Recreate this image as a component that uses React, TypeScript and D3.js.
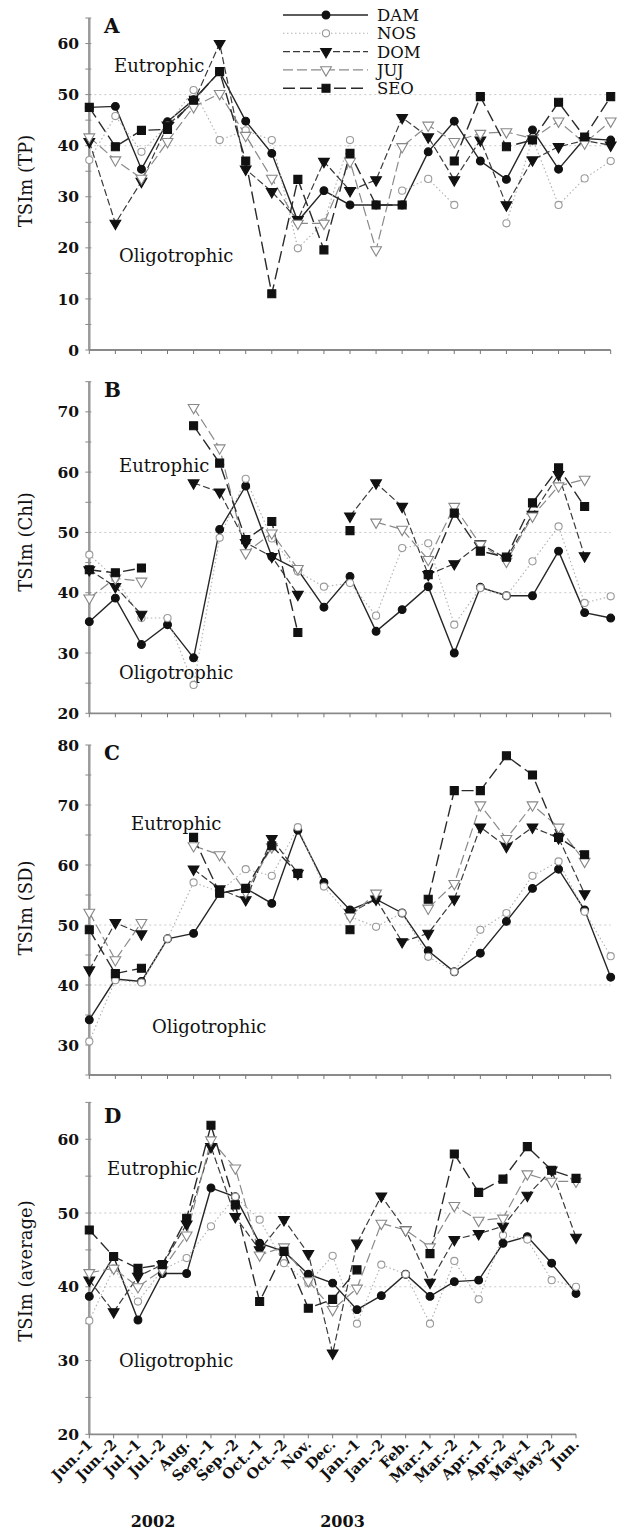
import React from 'react';
import * as d3 from 'd3';

const categories = ["Jun.–1","Jun.–2","Jul.–1","Jul.–2","Aug.","Sep.–1","Sep.–2","Oct.–1","Oct.–2","Nov.","Dec.","Jan.–1","Jan.–2","Feb.","Mar.–1","Mar.–2","Apr.–1","Apr.–2","May–1","May–2","Jun."];
const yearLabels = ["2002", "2003"];
const seriesNames = ["DAM", "NOS", "DOM", "JUJ", "SEO"];

// Panel A: TSIm (TP)
const tpDAM = [47.5, 47.7, 35.4, 44.7, 49.0, 54.5, 44.8, 38.5, 25.2, 31.2, 28.4, 28.4, 28.4, 38.8, 44.8, 37.0, 33.4, 43.1, 35.4, 41.4, 41.1];
const tpNOS = [37.2, 45.8, 38.8, 44.0, 50.9, 41.1, 43.0, 41.1, 19.9, 25.0, 41.1, null, 31.2, 33.5, 28.4, null, 24.8, 41.4, 28.4, 33.6, 37.0];
const tpDOM = [40.8, 24.8, 33.0, 44.0, 48.5, 60.0, 35.4, 31.0, 25.5, 36.9, 31.2, 33.3, 45.5, 41.7, 33.3, 41.1, 28.4, 37.2, 39.8, 41.0, 40.1];
const tpJUJ = [41.7, 37.2, 33.6, 40.8, 47.6, 50.2, 42.0, 33.6, 24.8, 24.8, 36.9, 19.6, 39.8, 44.0, 40.8, 42.4, 42.7, 41.4, 44.8, 40.5, 44.8];
const tpSEO = [47.5, 39.8, 43.0, 43.2, 48.9, 54.5, 37.0, 11.0, 33.4, 19.6, 38.5, 28.4, 28.4, null, 37.0, 49.6, 39.8, 41.1, 48.5, 41.7, 49.6];

// Panel B: TSIm (Chl)
const chlDAM = [35.2, 39.1, 31.4, 34.7, 29.2, 50.5, 57.7, 46.0, 43.8, 37.6, 42.7, 33.6, 37.2, 41.0, 30.0, 40.9, 39.5, 39.5, 46.9, 36.7, 35.8];
const chlNOS = [46.3, 42.4, 35.8, 35.8, 24.7, 49.1, 58.9, 49.0, 43.5, 41.0, 41.6, 36.2, 47.4, 48.2, 34.7, 40.8, 39.5, 45.2, 51.0, 38.3, 39.4];
const chlDOM = [43.8, 41.0, 36.4, null, 58.2, 56.7, 48.3, 46.0, 39.7, null, 52.7, 58.2, 54.3, 43.0, 44.8, 48.1, 45.7, 53.0, 59.6, 46.1, null];
const chlJUJ = [39.1, 42.4, 41.9, null, 70.7, 64.0, 46.6, 49.9, 44.0, null, null, 51.7, 50.5, 45.5, 54.3, 48.0, 45.2, 52.7, 57.7, 58.8, null];
const chlSEO = [43.8, 43.3, 44.1, null, 67.7, 61.5, 48.8, 51.8, 33.4, null, 50.3, null, null, 43.0, 53.2, 46.9, 45.9, 54.9, 60.7, 54.3, null];

// Panel C: TSIm (SD)
const sdDAM = [34.2, 41.0, 40.6, 47.7, 48.6, 55.3, 56.1, 53.6, 65.8, 57.1, 52.5, 54.3, 52.0, 45.7, 42.2, 45.3, 50.6, 56.1, 59.3, 52.5, 41.3];
const sdNOS = [30.6, 40.8, 40.4, 47.7, 57.1, 55.5, 59.3, 58.2, 66.3, 56.4, 51.4, 49.7, 52.0, 44.7, 42.2, 49.2, 52.0, 58.2, 60.6, 52.2, 44.8];
const sdDOM = [42.5, 50.4, 48.5, null, 59.3, 56.0, 54.2, 64.4, 58.6, null, 52.0, 54.3, 47.2, 48.6, 54.3, 66.3, 63.1, 66.3, 64.5, 55.2, null];
const sdJUJ = [52.1, 44.2, 50.4, null, 63.2, 61.7, 55.5, 63.0, null, null, 51.4, 55.3, null, 52.8, 56.9, 70.0, 64.4, 70.0, 66.3, 60.6, null];
const sdSEO = [49.2, 41.9, 42.8, null, 64.6, 55.3, 56.1, 63.2, 58.6, null, 49.2, null, null, 54.3, 72.4, 72.4, 78.2, 75.0, 64.6, 61.7, null];

// Panel D: TSIm (average)
const avgDAM = [38.7, 44.1, 35.5, 41.8, 41.8, 53.4, 52.2, 45.9, 44.8, 41.7, 40.5, 36.9, 38.8, 41.7, 38.7, 40.7, 40.9, 45.9, 46.8, 43.2, 39.1];
const avgNOS = [35.4, 42.5, 38.0, 42.3, 43.9, 48.2, 52.2, 49.1, 43.2, 40.5, 44.2, 35.0, 43.0, 41.7, 35.0, 43.5, 38.3, 47.0, 46.4, 40.9, 40.0];
const avgDOM = [40.9, 36.6, 41.4, 43.0, 48.5, 59.0, 49.5, 45.0, 49.1, 44.5, 31.0, 45.9, 52.3, 47.7, 40.6, 46.4, 47.2, 48.2, 52.4, 55.8, 46.7];
const avgJUJ = [41.9, 42.5, 40.0, 42.3, 47.0, 59.9, 56.1, 44.3, 45.4, 40.8, 36.9, 39.8, 48.6, 47.7, 45.4, 51.0, 49.0, 49.3, 55.3, 54.3, 54.3];
const avgSEO = [47.7, 44.1, 42.5, 43.0, 49.3, 61.9, 51.1, 38.0, 44.8, 37.1, 38.3, 42.3, null, null, 44.5, 58.0, 52.8, 54.6, 59.0, 55.8, 54.7];

const trophicLines = [40, 50];

const FONT = "'DejaVu Serif', serif";

const seriesStyle: Record<string, any> = {
  DAM: { stroke: '#262626', dash: null, width: 1.4, symbol: d3.symbolCircle, size: 48, fill: '#111', mstroke: '#111', rot: 0 },
  NOS: { stroke: '#b0b0b0', dash: '1.5,2.5', width: 1.1, symbol: d3.symbolCircle, size: 40, fill: '#fff', mstroke: '#9a9a9a', rot: 0 },
  DOM: { stroke: '#3a3a3a', dash: '7,3', width: 1.2, symbol: d3.symbolTriangle, size: 50, fill: '#111', mstroke: '#111', rot: 180 },
  JUJ: { stroke: '#8a8a8a', dash: '10,4', width: 1.2, symbol: d3.symbolTriangle, size: 50, fill: '#fff', mstroke: '#888', rot: 180 },
  SEO: { stroke: '#2a2a2a', dash: '12,5', width: 1.4, symbol: d3.symbolSquare, size: 64, fill: '#111', mstroke: '#111', rot: 0 },
};

const X0 = 89.3;

const panels = [
  { letter: 'A', title: 'TSIm (TP)', domain: [0, 65], range: [350, 18], ticks: [0, 10, 20, 30, 40, 50, 60], xEnd: 610.7,
    data: { DAM: tpDAM, NOS: tpNOS, DOM: tpDOM, JUJ: tpJUJ, SEO: tpSEO }, eu: [114, 72], oli: [119, 262], titleY: 181, letterY: 33 },
  { letter: 'B', title: 'TSIm (Chl)', domain: [20, 75], range: [713.3, 381.7], ticks: [20, 30, 40, 50, 60, 70], xEnd: 610.7,
    data: { DAM: chlDAM, NOS: chlNOS, DOM: chlDOM, JUJ: chlJUJ, SEO: chlSEO }, eu: [119, 472], oli: [119, 679], titleY: 542, letterY: 397 },
  { letter: 'C', title: 'TSIm (SD)', domain: [25, 80], range: [1075, 745], ticks: [30, 40, 50, 60, 70, 80], xEnd: 610.7,
    data: { DAM: sdDAM, NOS: sdNOS, DOM: sdDOM, JUJ: sdJUJ, SEO: sdSEO }, eu: [131, 830], oli: [152, 1033], titleY: 908, letterY: 760 },
  { letter: 'D', title: 'TSIm (average)', domain: [20, 65], range: [1434.3, 1102.4], ticks: [20, 30, 40, 50, 60], xEnd: 576,
    data: { DAM: avgDAM, NOS: avgNOS, DOM: avgDOM, JUJ: avgJUJ, SEO: avgSEO }, eu: [107, 1175], oli: [119, 1367], titleY: 1271, letterY: 1123 },
];

function Marker({ name, x, y }: { name: string; x: number; y: number }) {
  const s = seriesStyle[name];
  const path = d3.symbol().type(s.symbol).size(s.size)() as string;
  return (
    <path d={path} transform={`translate(${x},${y}) rotate(${s.rot})`} fill={s.fill} stroke={s.mstroke} strokeWidth={1.1} />
  );
}

function Panel({ p, showX }: { p: any; showX: boolean }) {
  const x = d3.scalePoint<string>().domain(categories).range([X0, p.xEnd]).padding(0);
  const y = d3.scaleLinear().domain(p.domain).range(p.range);
  const yBottom = p.range[0];
  const yTop = p.range[1];
  const minor = d3.range(p.domain[0], p.domain[1] + 0.01, 5);
  const line = d3.line<any>()
    .defined((d) => d.v != null)
    .x((d) => x(d.c) as number)
    .y((d) => y(d.v));
  return (
    <g>
      {trophicLines.map((t) => (
        <line key={t} x1={X0} x2={p.xEnd} y1={y(t)} y2={y(t)} stroke="#c8c8c8" strokeWidth={1} strokeDasharray="2,3" />
      ))}
      <line x1={X0} x2={X0} y1={yTop} y2={yBottom} stroke="#9a9a9a" strokeWidth={2.5} />
      <line x1={X0} x2={p.xEnd} y1={yBottom} y2={yBottom} stroke="#8a8a8a" strokeWidth={1.8} />
      {minor.map((t: number) => (
        <line key={'m' + t} x1={X0 - 4} x2={X0 + 2} y1={y(t)} y2={y(t)} stroke="#8a8a8a" strokeWidth={1} />
      ))}
      {categories.map((c) => (
        <line key={'xt' + c} x1={x(c)} x2={x(c)} y1={yBottom} y2={yBottom + 4} stroke="#777" strokeWidth={1} />
      ))}
      {p.ticks.map((t: number) => (
        <text key={'t' + t} x={79} y={y(t)} dy="0.36em" textAnchor="end" fontFamily={FONT} fontWeight="bold" fontSize={15.5} fill="#111">{t}</text>
      ))}
      <text transform={`translate(32,${p.titleY}) rotate(-90)`} textAnchor="middle" fontFamily={FONT} fontSize={18} fill="#111">{p.title}</text>
      <text x={104} y={p.letterY} fontFamily={FONT} fontWeight="bold" fontSize={20} fill="#111">{p.letter}</text>
      <text x={p.eu[0]} y={p.eu[1]} fontFamily={FONT} fontSize={18} fill="#111">Eutrophic</text>
      <text x={p.oli[0]} y={p.oli[1]} fontFamily={FONT} fontSize={18} fill="#111">Oligotrophic</text>
      {seriesNames.map((n) => {
        const s = seriesStyle[n];
        const pts = categories.map((c, i) => ({ c, v: p.data[n][i] }));
        return (
          <path key={'l' + n} d={line(pts) as string} fill="none" stroke={s.stroke} strokeWidth={s.width} strokeDasharray={s.dash || undefined} />
        );
      })}
      {seriesNames.map((n) => (
        <g key={'mk' + n}>
          {categories.map((c, i) => {
            const v = p.data[n][i];
            if (v == null) return null;
            return <Marker key={c} name={n} x={x(c) as number} y={y(v)} />;
          })}
        </g>
      ))}
      {showX && categories.map((c) => (
        <text key={'xl' + c} transform={`translate(${(x(c) as number) + 4},${yBottom + 11}) rotate(-45)`} textAnchor="end" fontFamily={FONT} fontWeight="bold" fontSize={14.5} fill="#111">{c}</text>
      ))}
    </g>
  );
}

function Legend() {
  const x1 = 283, x2 = 368, xm = 326, xt = 377;
  const y0 = 15, dy = 18.3;
  return (
    <g>
      {seriesNames.map((n, i) => {
        const s = seriesStyle[n];
        const yy = y0 + i * dy;
        return (
          <g key={n}>
            <line x1={x1} x2={x2} y1={yy} y2={yy} stroke={s.stroke} strokeWidth={s.width} strokeDasharray={s.dash || undefined} />
            <Marker name={n} x={xm} y={yy} />
            <text x={xt} y={yy} dy="0.36em" fontFamily={FONT} fontSize={16.5} fill="#111">{n}</text>
          </g>
        );
      })}
    </g>
  );
}

export default function App() {
  return (
    <svg width={630} height={1531} style={{ position: 'absolute', left: 0, top: 0, background: '#fff' }}>
      <rect x={0} y={0} width={630} height={1531} fill="#fff" />
      {panels.map((p, i) => (
        <Panel key={p.letter} p={p} showX={i === panels.length - 1} />
      ))}
      <Legend />
      <text x={153} y={1527} textAnchor="middle" fontFamily={FONT} fontWeight="bold" fontSize={16} fill="#111">{yearLabels[0]}</text>
      <text x={342.5} y={1527} textAnchor="middle" fontFamily={FONT} fontWeight="bold" fontSize={16} fill="#111">{yearLabels[1]}</text>
    </svg>
  );
}
